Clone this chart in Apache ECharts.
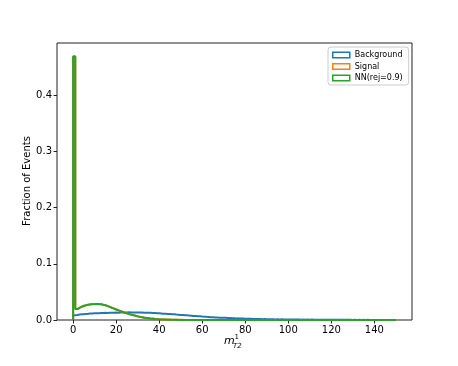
<!DOCTYPE html>
<html><head><meta charset="utf-8">
<script src="https://cdn.jsdelivr.net/npm/echarts@6/dist/echarts.min.js"></script>
<style>html,body{margin:0;padding:0;background:#fff}#c{width:458px;height:366px}</style>
</head><body><div id="c"></div>
<script>
// bin left edges 0..149, width 1
const binStart = 0, binWidth = 1;
const background = [
0.0085,0.0090,0.0097,0.0102,0.0104,0.0109,0.0110,0.0114,0.0115,0.0119,
0.0120,0.0121,0.0124,0.0124,0.0127,0.0126,0.0129,0.0129,0.0130,0.0132,
0.0131,0.0134,0.0132,0.0135,0.0134,0.0136,0.0134,0.0135,0.0133,0.0134,
0.0132,0.0132,0.0130,0.0130,0.0127,0.0127,0.0124,0.0123,0.0120,0.0119,
0.0117,0.0113,0.0112,0.0108,0.0107,0.0102,0.0101,0.0096,0.0095,0.0090,
0.0089,0.0084,0.0083,0.0078,0.0077,0.0072,0.0071,0.0066,0.0066,0.0061,
0.0060,0.0056,0.0055,0.0051,0.0051,0.0046,0.0046,0.0042,0.0042,0.0038,
0.0038,0.0034,0.0035,0.0031,0.0031,0.0028,0.0029,0.0025,0.0026,0.0023,
0.0024,0.0021,0.0022,0.0019,0.0020,0.0017,0.0018,0.0015,0.0017,0.0014,
0.0015,0.0013,0.0014,0.0011,0.0013,0.0010,0.0012,0.0009,0.0011,0.0008,
0.0010,0.0008,0.0009,0.0007,0.0009,0.0006,0.0008,0.0006,0.0007,0.0005,
0.0007,0.0005,0.0006,0.0005,0.0006,0.0004,0.0005,0.0004,0.0005,0.0004,
0.0005,0.0003,0.0004,0.0003,0.0004,0.0003,0.0004,0.0003,0.0003,0.0002,
0.0003,0.0002,0.0003,0.0002,0.0003,0.0002,0.0003,0.0002,0.0002,0.0002,
0.0002,0.0002,0.0002,0.0001,0.0002,0.0001,0.0002,0.0001,0.0002,0.0001
];
const signal = [
0.4680,0.0198,0.0219,0.0238,0.0254,0.0265,0.0274,0.0279,0.0284,0.0286,
0.0287,0.0285,0.0282,0.0274,0.0265,0.0251,0.0236,0.0221,0.0206,0.0191,
0.0175,0.0161,0.0147,0.0134,0.0121,0.0109,0.0098,0.0088,0.0078,0.0069,
0.0060,0.0052,0.0045,0.0039,0.0034,0.0029,0.0025,0.0021,0.0018,0.0015,
0.0013,0.0011,0.0009,0.0008,0.0007,0.0006,0.0005,0.0004,0.0004,0.0003,
0.0003,0.0002,0.0002,0.0002,0.0002,0.0001,0.0001,0.0001,0.0001,0.0001,
0.0001,0.0001,0.0001,0.0001,0.0001,0.0001,0.0001,0.0001,0.0001,0.0001,
0,0,0,0,0,0,0,0,0,0,
0,0,0,0,0,0,0,0,0,0,
0,0,0,0,0,0,0,0,0,0,
0,0,0,0,0,0,0,0,0,0,
0,0,0,0,0,0,0,0,0,0,
0,0,0,0,0,0,0,0,0,0,
0,0,0,0,0,0,0,0,0,0,
0,0,0,0,0,0,0,0,0,0
];
const nn = [
0.4700,0.0195,0.0214,0.0236,0.0250,0.0263,0.0270,0.0277,0.0280,0.0282,
0.0284,0.0282,0.0281,0.0271,0.0262,0.0247,0.0233,0.0217,0.0203,0.0187,
0.0172,0.0157,0.0144,0.0130,0.0118,0.0105,0.0095,0.0083,0.0074,0.0064,
0.0056,0.0047,0.0041,0.0034,0.0030,0.0024,0.0021,0.0017,0.0015,0.0012,
0.0010,0.0008,0.0007,0.0006,0.0005,0.0004,0.0003,0.0003,0.0002,0.0002,
0.0002,0.0001,0.0001,0.0001,0.0001,0.0001,0.0001,0.0001,0.0001,0.0001,
0.0001,0.0001,0.0001,0.0001,0.0001,0.0001,0.0001,0.0001,0.0001,0.0001,
0,0,0,0,0,0,0,0,0,0,
0,0,0,0,0,0,0,0,0,0,
0,0,0,0,0,0,0,0,0,0,
0,0,0,0,0,0,0,0,0,0,
0,0,0,0,0,0,0,0,0,0,
0,0,0,0,0,0,0,0,0,0,
0,0,0,0,0,0,0,0,0,0,
0,0,0,0,0,0,0,0,0,0
];
const xTicks = [0,20,40,60,80,100,120,140];
const yTicks = [0,0.1,0.2,0.3,0.4];
const seriesNames = ['Background','Signal','NN(rej=0.9)'];
const colors = ['#1f77b4','#ff7f0e','#2ca02c'];
const yTitle = 'Fraction of Events';

function stepData(vals){
  const d=[[binStart,0]];
  vals.forEach((v,i)=>d.push([binStart+i*binWidth,v]));
  const end=binStart+vals.length*binWidth;
  d.push([end,vals[vals.length-1]]);
  d.push([end,0]);
  return d;
}
const F='DejaVu Sans';
const chart=echarts.init(document.getElementById('c'),null,{renderer:'canvas'});
const allVals=[background,signal,nn];
chart.setOption({
  animation:false,
  backgroundColor:'#fff',
  grid:{left:57,right:46,top:43,bottom:46,show:true,borderColor:'#222',borderWidth:1,backgroundColor:'transparent'},
  xAxis:{type:'value',min:-7.5,max:157.5,
    axisLine:{show:false,onZero:false},splitLine:{show:false},
    axisTick:{show:true,length:3.5,inside:false,lineStyle:{color:'#222',width:1},customValues:xTicks},
    axisLabel:{color:'#000',fontFamily:F,fontSize:10,margin:5,customValues:xTicks,formatter:v=>String(v)}},
  yAxis:{type:'value',min:0,max:0.4935,
    axisLine:{show:false,onZero:false},splitLine:{show:false},
    axisTick:{show:true,length:3.5,lineStyle:{color:'#222',width:1},customValues:yTicks},
    axisLabel:{color:'#000',fontFamily:F,fontSize:10,margin:5,customValues:yTicks,formatter:v=>v.toFixed(1)}},
  legend:{orient:'vertical',left:328,top:47,padding:[4,6,3,4],itemGap:3.5,
    itemWidth:17,itemHeight:5.5,
    borderColor:'#ccc',borderWidth:1,borderRadius:3,backgroundColor:'#fff',
    textStyle:{color:'#000',fontFamily:F,fontSize:8,lineHeight:8},
    data:seriesNames.map((n,i)=>({name:n,icon:'rect',itemStyle:{color:'#fff',borderColor:colors[i],borderWidth:1.5}}))},
  series:seriesNames.map((n,i)=>({name:n,type:'line',step:'end',showSymbol:false,symbol:'none',
    data:stepData(allVals[i]),color:colors[i],
    lineStyle:{color:colors[i],width:2},itemStyle:{color:colors[i]},z:2+i})),
  graphic:[
    {type:'text',x:27,y:181,rotation:Math.PI/2,style:{text:yTitle,font:'10px "DejaVu Sans"',fill:'#000',align:'center',verticalAlign:'middle'}},
    {type:'text',left:224,top:335.5,style:{text:'m',font:'italic 11px "DejaVu Sans"',fill:'#000'}},
    {type:'text',left:234.5,top:334,style:{text:'1',font:'7px "DejaVu Sans"',fill:'#000'}},
    {type:'text',left:233,top:342.5,style:{text:'T2',font:'italic 7px "DejaVu Sans"',fill:'#000'}}
  ]
});
</script></body></html>
